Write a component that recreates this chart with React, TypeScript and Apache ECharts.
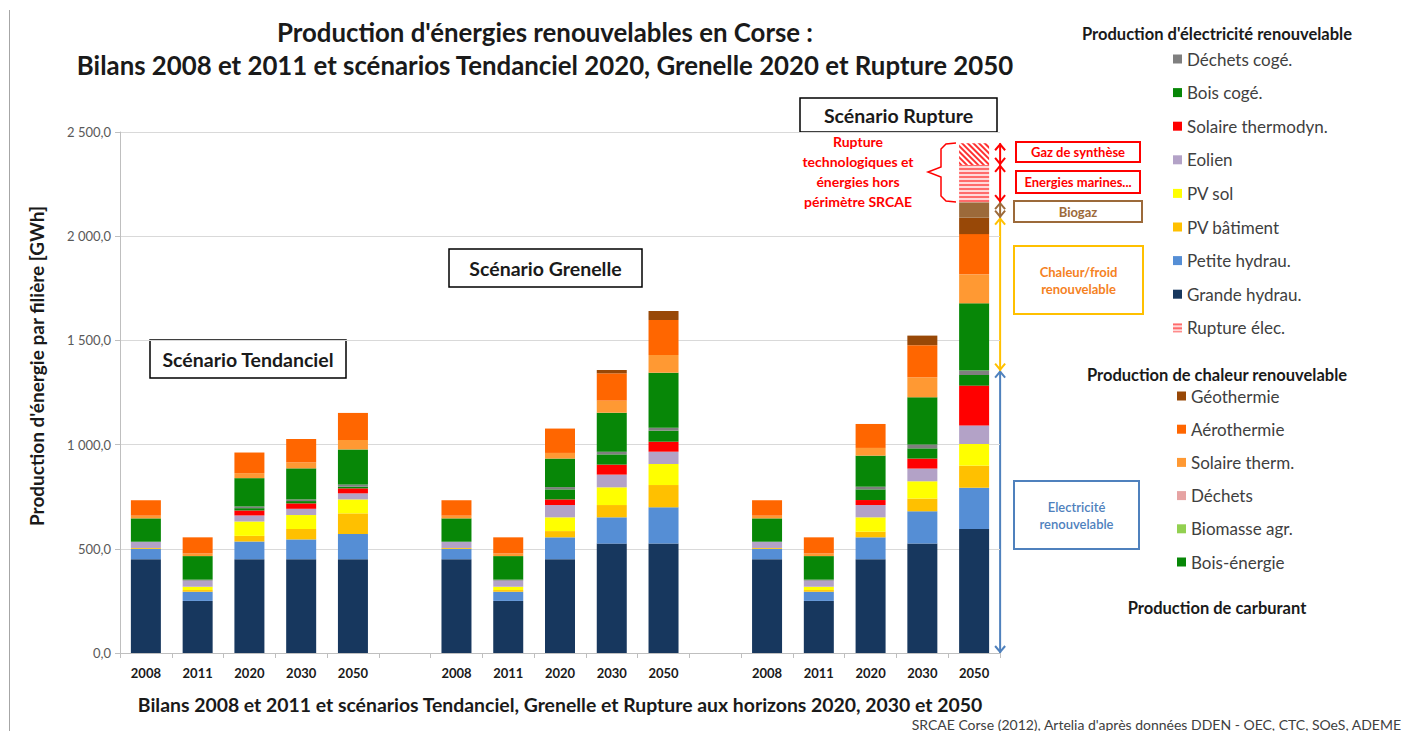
import React, { useEffect, useRef } from 'react';
import * as echarts from 'echarts';

// ---- categories (3 groups: Tendanciel, Grenelle, Rupture) ----
const years = ['2008', '2011', '2020', '2030', '2050'];
const categories = [...years, '', ...years, ' ', ...years];

// ---- series values, 15 each: Tendanciel(5), Grenelle(5), Rupture(5) ----
const grandeHydrau = [450, 250, 450, 450, 450, 450, 250, 450, 525, 525, 450, 250, 450, 525, 595];
const petiteHydrau = [50, 44, 85, 95, 121, 50, 44, 105, 126, 174, 50, 44, 105, 155, 198];
const pvBatiment = [4, 8, 27, 50, 99, 4, 8, 30, 59, 107, 4, 8, 27, 61, 106];
const pvSol = [0, 16, 69, 67, 67, 0, 16, 66, 85, 101, 0, 16, 69, 83, 104];
const eolien = [30, 29, 29, 30, 29, 30, 29, 59, 61, 59, 30, 29, 59, 61, 89];
const solaireThermodyn = [0, 0, 24, 26, 24, 0, 0, 27, 48, 48, 0, 0, 24, 48, 191];
const boisCoge = [0, 0, 11, 11, 8, 0, 0, 48, 49, 53, 0, 0, 51, 49, 51];
const dechetsCoge = [0, 5, 8, 8, 11, 0, 5, 11, 13, 14, 0, 5, 13, 19, 21];
const biomasseAgr = [0, 0, 0, 0, 0, 0, 0, 0, 0, 0, 0, 0, 0, 0, 0];
const dechets = [0, 0, 0, 0, 0, 0, 0, 0, 0, 0, 0, 0, 0, 0, 0];
const boisEnergie = [112, 113, 136, 149, 168, 112, 113, 137, 187, 264, 112, 113, 149, 226, 323];
const solaireTherm = [13, 13, 24, 29, 45, 13, 13, 27, 58, 85, 13, 13, 37, 96, 139];
const aerothermie = [74, 77, 99, 112, 130, 74, 77, 117, 131, 168, 74, 77, 115, 154, 193];
const geothermie = [0, 0, 0, 0, 0, 0, 0, 0, 16, 43, 0, 0, 0, 46, 79];
const biogaz = [0, 0, 0, 0, 0, 0, 0, 0, 0, 0, 0, 0, 0, 0, 74];
const ruptureElec = [0, 0, 0, 0, 0, 0, 0, 0, 0, 0, 0, 0, 0, 0, 179];
const gazSynthese = [0, 0, 0, 0, 0, 0, 0, 0, 0, 0, 0, 0, 0, 0, 104];

const yTicks = [0, 500, 1000, 1500, 2000, 2500];

const legendElec = ['Déchets cogé.', 'Bois cogé.', 'Solaire thermodyn.', 'Eolien', 'PV sol', 'PV bâtiment', 'Petite hydrau.', 'Grande hydrau.', 'Rupture élec.'];
const legendChaleur = ['Géothermie', 'Aérothermie', 'Solaire therm.', 'Déchets', 'Biomasse agr.', 'Bois-énergie'];

const FONT = 'Lato, "Noto Sans", sans-serif';

function withGaps(a: number[]) {
  return [...a.slice(0, 5), null, ...a.slice(5, 10), null, ...a.slice(10, 15)];
}

const SERIES: { name: string; data: number[]; color: string; decal?: any }[] = [
  { name: 'Grande hydrau.', data: grandeHydrau, color: '#17375e' },
  { name: 'Petite hydrau.', data: petiteHydrau, color: '#558ed5' },
  { name: 'PV bâtiment', data: pvBatiment, color: '#ffc000' },
  { name: 'PV sol', data: pvSol, color: '#ffff00' },
  { name: 'Eolien', data: eolien, color: '#b3a2c7' },
  { name: 'Solaire thermodyn.', data: solaireThermodyn, color: '#ff0000' },
  { name: 'Bois cogé.', data: boisCoge, color: '#078707' },
  { name: 'Déchets cogé.', data: dechetsCoge, color: '#7f7f7f' },
  { name: 'Biomasse agr.', data: biomasseAgr, color: '#92d050' },
  { name: 'Déchets', data: dechets, color: '#e6a3a3' },
  { name: 'Bois-énergie', data: boisEnergie, color: '#078707' },
  { name: 'Solaire therm.', data: solaireTherm, color: '#ff9933' },
  { name: 'Aérothermie', data: aerothermie, color: '#ff6600' },
  { name: 'Géothermie', data: geothermie, color: '#984807' },
  { name: 'Biogaz', data: biogaz, color: '#9c6a3a' },
  {
    name: 'Rupture élec.', data: ruptureElec, color: '#ffd9d9',
    decal: { symbol: 'rect', symbolSize: 1, dashArrayX: [1, 0], dashArrayY: [2, 2], color: '#ff6b6b' },
  },
  {
    name: 'Gaz de synthèse', data: gazSynthese, color: '#ffffff',
    decal: { symbol: 'rect', symbolSize: 1, dashArrayX: [1, 0], dashArrayY: [1.5, 2], rotation: Math.PI / 4, color: '#ff3030' },
  },
];

function fmtY(v: number) {
  const [i, d] = v.toFixed(1).split('.');
  return i.replace(/\B(?=(\d{3})+(?!\d))/g, ' ') + ',' + d;
}

function arrow(x: number, y1: number, y2: number, color: string) {
  return {
    type: 'group',
    children: [
      { type: 'line', shape: { x1: x, y1, x2: x, y2 }, style: { stroke: color, lineWidth: 2 } },
      { type: 'polyline', shape: { points: [[x - 5, y1 + 7], [x, y1 + 1], [x + 5, y1 + 7]] }, style: { stroke: color, lineWidth: 2, fill: null } },
      { type: 'polyline', shape: { points: [[x - 5, y2 - 7], [x, y2 - 1], [x + 5, y2 - 7]] }, style: { stroke: color, lineWidth: 2, fill: null } },
    ],
  };
}

function box(x: number, y: number, w: number, h: number, stroke: string, text: string, color: string, size: number, lw = 2, weight = 'bold') {
  return [
    { type: 'rect', shape: { x, y, width: w, height: h }, style: { fill: '#fff', stroke, lineWidth: lw } },
    {
      type: 'text', x: x + w / 2, y: y + h / 2,
      style: { text, fill: color, font: `${weight} ${size}px ${FONT}`, align: 'center', verticalAlign: 'middle', lineHeight: size + 4 },
    },
  ];
}

export default function App() {
  const ref = useRef<HTMLDivElement>(null);
  useEffect(() => {
    const chart = echarts.init(ref.current!, null, { renderer: 'svg' });
    const staticGraphics: any[] = [
      { type: 'line', shape: { x1: 9.5, y1: 10, x2: 9.5, y2: 731 }, style: { stroke: '#a6a6a6', lineWidth: 1 } },
      { type: 'text', x: 545, y: 32, style: { text: "Production d'énergies renouvelables en Corse :", font: `bold 25.8px ${FONT}`, fill: '#1a1a1a', align: 'center', verticalAlign: 'middle' } },
      { type: 'text', x: 545, y: 65, style: { text: 'Bilans 2008 et 2011 et scénarios Tendanciel 2020, Grenelle 2020 et Rupture 2050', font: `bold 25.8px ${FONT}`, fill: '#1a1a1a', align: 'center', verticalAlign: 'middle' } },
      { type: 'text', x: 36, y: 366, rotation: Math.PI / 2, style: { text: "Production d'énergie par filière [GWh]", font: `bold 19px ${FONT}`, fill: '#1a1a1a', align: 'center', verticalAlign: 'middle' } },
      ...box(150, 340, 196, 38, '#000', 'Scénario Tendanciel', '#1a1a1a', 19.5, 1.5),
      ...box(449, 249, 193, 38, '#000', 'Scénario Grenelle', '#1a1a1a', 19.5, 1.5),
      ...box(800, 98, 197, 34, '#000', 'Scénario Rupture', '#1a1a1a', 19.5, 1.5),
      { type: 'text', x: 858, y: 171, style: { text: 'Rupture\ntechnologiques et\nénergies hors\npérimètre SRCAE', font: `bold 14px ${FONT}`, fill: '#ff0000', align: 'center', verticalAlign: 'middle', lineHeight: 20 } },
      { type: 'polyline', shape: { points: [[956, 143], [946, 144], [941, 149], [941, 167], [928, 172], [941, 177], [941, 196], [946, 201], [956, 202]] }, style: { stroke: '#ff0000', lineWidth: 1.5, fill: null } },
      ...box(1016, 142, 124, 20, '#ff0000', 'Gaz de synthèse', '#ff0000', 13),
      ...box(1016, 171, 124, 22, '#ff0000', 'Energies marines...', '#ff0000', 13),
      ...box(1014, 201, 128, 21, '#9c6a3a', 'Biogaz', '#9c6a3a', 13),
      ...box(1014, 246, 129, 68, '#ffc000', 'Chaleur/froid\nrenouvelable', '#f5821f', 13),
      ...box(1014, 481, 125, 68, '#4f81bd', 'Electricité\nrenouvelable', '#4f81bd', 13, 2, '600'),
      { type: 'text', x: 1217, y: 34, style: { text: "Production d'électricité renouvelable", font: `bold 16.5px ${FONT}`, fill: '#1a1a1a', align: 'center', verticalAlign: 'middle' } },
      { type: 'text', x: 1217, y: 375, style: { text: 'Production de chaleur renouvelable', font: `bold 16.5px ${FONT}`, fill: '#1a1a1a', align: 'center', verticalAlign: 'middle' } },
      { type: 'text', x: 1217, y: 608, style: { text: 'Production de carburant', font: `bold 16.5px ${FONT}`, fill: '#1a1a1a', align: 'center', verticalAlign: 'middle' } },
      { type: 'text', x: 1401, y: 724, style: { text: "SRCAE Corse (2012), Artelia d'après données DDEN - OEC, CTC, SOeS, ADEME", font: `14px ${FONT}`, fill: '#404040', align: 'right', verticalAlign: 'middle' } },
    ];

    const option: any = {
      animation: false,
      backgroundColor: '#ffffff',
      textStyle: { fontFamily: FONT },
      grid: { left: 120, right: 402, top: 132, bottom: 78, containLabel: false },
      legend: [
        {
          data: legendElec, orient: 'vertical', left: 1168, top: 45.5, itemWidth: 9, itemHeight: 9, itemGap: 16.6,
          icon: 'rect', selectedMode: false, textStyle: { fontSize: 17, color: '#404040', fontFamily: FONT },
        },
        {
          data: legendChaleur, orient: 'vertical', left: 1172, top: 382.5, itemWidth: 9, itemHeight: 9, itemGap: 16.2,
          icon: 'rect', selectedMode: false, textStyle: { fontSize: 17, color: '#404040', fontFamily: FONT },
        },
      ],
      xAxis: {
        type: 'category', data: categories,
        name: 'Bilans 2008 et 2011 et scénarios Tendanciel, Grenelle et Rupture aux horizons 2020, 2030 et 2050',
        nameLocation: 'middle', nameGap: 42,
        nameTextStyle: { fontSize: 19.4, fontWeight: 'bold', color: '#1a1a1a', fontFamily: FONT },
        axisLine: { show: true, lineStyle: { color: '#bfbfbf' } },
        axisTick: { show: true, interval: 0, length: 5, lineStyle: { color: '#bfbfbf' } },
        axisLabel: { interval: 0, fontSize: 13, fontWeight: 'bold', color: '#1a1a1a', margin: 13, fontFamily: FONT },
      },
      yAxis: {
        type: 'value', min: 0, max: 2500, interval: 500,
        axisLine: { show: true, lineStyle: { color: '#bfbfbf' } },
        axisTick: { show: true, length: 5, lineStyle: { color: '#bfbfbf' } },
        axisLabel: { fontSize: 13, color: '#595959', margin: 9, formatter: (v: number) => (yTicks.includes(v) ? fmtY(v) : '') },
        splitLine: { lineStyle: { color: '#d9d9d9' } },
      },
      series: SERIES.map((s) => ({
        name: s.name, type: 'bar', stack: 'total', barWidth: 30,
        data: withGaps(s.data),
        itemStyle: s.decal ? { color: s.color, decal: s.decal } : { color: s.color },
        emphasis: { disabled: true },
      })),
      graphic: staticGraphics,
    };
    chart.setOption(option);

    // annotation arrows for Rupture 2050, placed through the chart's own scales
    const i = 14;
    const cum = (list: number[][]) => list.reduce((acc, a) => acc + a[i], 0);
    const elecTop = cum([grandeHydrau, petiteHydrau, pvBatiment, pvSol, eolien, solaireThermodyn, boisCoge, dechetsCoge]);
    const chaleurTop = elecTop + cum([biomasseAgr, dechets, boisEnergie, solaireTherm, aerothermie, geothermie]);
    const biogazTop = chaleurTop + biogaz[i];
    const ruptTop = biogazTop + ruptureElec[i];
    const gazTop = ruptTop + gazSynthese[i];
    const py = (v: number) => chart.convertToPixel({ yAxisIndex: 0 }, v) as number;
    const xBar = chart.convertToPixel({ xAxisIndex: 0 }, 16) as number;
    const ax = xBar + 26;
    chart.setOption({
      graphic: [
        ...staticGraphics,
        arrow(ax, py(elecTop), py(0), '#4f81bd'),
        arrow(ax, py(chaleurTop), py(elecTop), '#ffc000'),
        arrow(ax, py(biogazTop), py(chaleurTop), '#9c6a3a'),
        arrow(ax, py(ruptTop), py(biogazTop), '#ff0000'),
        arrow(ax, py(gazTop), py(ruptTop), '#ff0000'),
      ],
    });

    return () => chart.dispose();
  }, []);
  return <div ref={ref} style={{ position: 'absolute', left: 0, top: 0, width: 1402, height: 731, background: '#fff' }} />;
}
